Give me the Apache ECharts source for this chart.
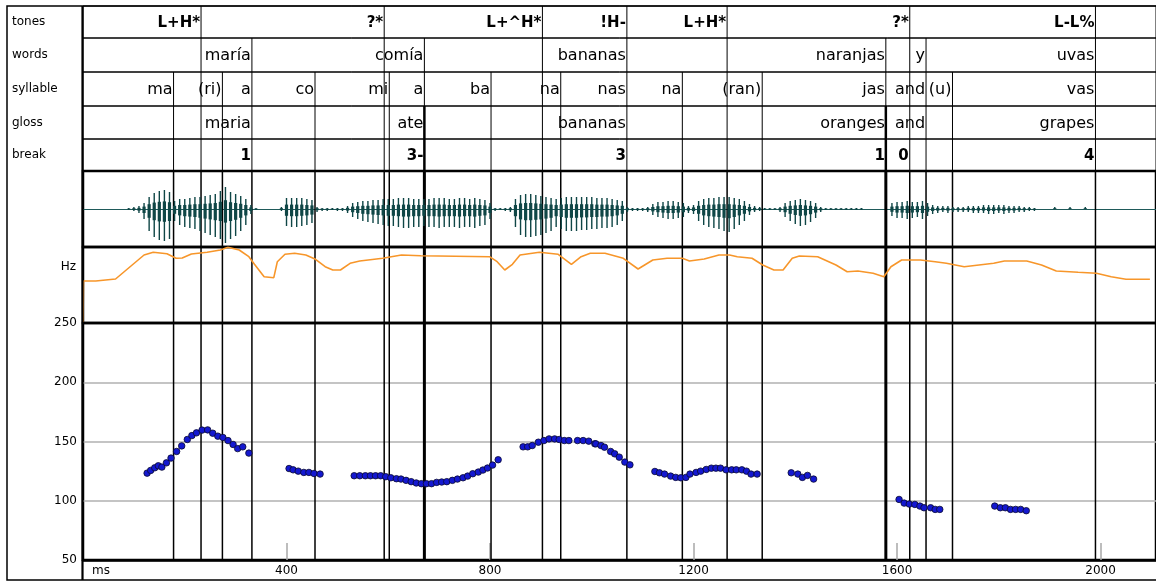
<!DOCTYPE html>
<html>
<head>
<meta charset="utf-8">
<title>María comía bananas, naranjas y uvas</title>
<script src="https://cdn.jsdelivr.net/npm/echarts@6.0.0/dist/echarts.min.js"></script>
<style>
  html, body { margin: 0; padding: 0; background: #fff; }
  #chart { width: 1156px; height: 582px; }
</style>
</head>
<body>
<div id="chart"></div>
<script>
// ---------- annotation tiers (boundary time in ms, label ends at its boundary) ----------
const toneTimes   = [232, 592, 903, 1069, 1266, 1625, 1990];
const toneLabels  = ['L+H*', '?*', 'L+^H*', '!H-', 'L+H*', '?*', 'L-L%'];

const wordTimes   = [332, 671, 1069, 1578, 1657, 1990];
const wordLabels  = ['maría', 'comía', 'bananas', 'naranjas', 'y', 'uvas'];

const syllTimes   = [178, 274, 332, 456, 602, 671, 802, 939, 1069, 1178, 1335, 1578, 1657, 1709, 1990];
const syllLabels  = ['ma', '(ri)', 'a', 'co', 'mi', 'a', 'ba', 'na', 'nas', 'na', '(ran)', 'jas', 'and', '(u)', 'vas'];

const glossTimes  = [332, 671, 1069, 1578, 1657, 1990];
const glossLabels = ['maria', 'ate', 'bananas', 'oranges', 'and', 'grapes'];

const breakTimes  = [332, 671, 1069, 1578, 1625, 1990];
const breakLabels = ['1', '3-', '3', '1', '0', '4'];

// boundaries drawn heavier (major phrase breaks)
const majorBreaks = [671, 1578];

// ---------- waveform envelope: [ms, peak above baseline, peak below baseline] ----------
const waveform = [
  [80,0,0],[90,1,1],[100,2,2],[110,3,4],[120,6,10],[130,12,22],[140,16,28],[150,18,31],[160,19,32],[170,17,30],
  [180,8,12],[190,10,16],[200,10,18],[210,11,19],[220,12,20],[230,12,22],[240,13,24],[250,14,26],[260,15,28],[270,18,30],
  [280,22,34],[290,17,30],[300,15,27],[310,13,22],[320,10,16],[330,4,5],[340,1,1],[350,0,0],[360,0,0],[370,0,0],
  [380,0,0],[390,2,2],[400,11,17],[410,11,18],[420,11,18],[430,11,17],[440,10,16],[450,9,14],[460,2,3],[470,1,2],
  [480,1,2],[490,1,1],[500,1,2],[510,1,2],[520,3,4],[530,6,8],[540,7,10],[550,8,12],[560,8,13],[570,9,14],
  [580,9,15],[590,10,16],[600,10,17],[610,10,17],[620,11,18],[630,11,19],[640,11,19],[650,10,18],[660,10,18],[670,10,17],
  [680,10,18],[690,11,18],[700,11,19],[710,11,18],[720,10,18],[730,10,18],[740,11,19],[750,11,18],[760,10,18],[770,11,19],
  [780,10,17],[790,9,16],[800,6,10],[810,1,2],[820,1,1],[830,1,2],[840,2,3],[850,10,18],[860,14,26],[870,15,28],
  [880,15,28],[890,14,27],[900,13,26],[910,12,24],[920,11,22],[930,10,18],[940,11,20],[950,12,22],[960,12,22],[970,12,22],
  [980,12,21],[990,12,21],[1000,12,20],[1010,11,20],[1020,11,19],[1030,11,19],[1040,10,18],[1050,9,16],[1060,8,12],[1070,2,3],
  [1080,1,2],[1090,1,2],[1100,1,2],[1110,2,3],[1120,5,6],[1130,7,8],[1140,7,9],[1150,8,10],[1160,8,10],[1170,7,9],
  [1180,6,8],[1190,3,4],[1200,4,5],[1210,8,12],[1220,10,16],[1230,11,18],[1240,11,19],[1250,12,20],[1260,12,22],[1270,12,23],
  [1280,11,20],[1290,10,16],[1300,8,12],[1310,5,6],[1320,3,3],[1330,2,2],[1340,1,1],[1350,1,1],[1360,1,1],[1370,2,3],
  [1380,6,8],[1390,8,12],[1400,9,15],[1410,10,17],[1420,9,16],[1430,8,13],[1440,6,9],[1450,2,3],[1460,1,1],[1470,1,1],
  [1480,1,1],[1490,1,1],[1500,1,1],[1510,1,1],[1520,1,1],[1530,1,1],
  [1590,6,7],[1600,7,9],[1610,7,9],[1620,8,10],[1630,7,9],[1640,7,8],[1650,8,10],[1660,6,7],[1670,4,5],
  [1680,3,4],[1690,3,3],[1700,3,4],[1710,2,3],[1720,2,3],[1730,2,3],[1740,3,3],[1750,3,4],[1760,3,4],[1770,4,4],
  [1780,4,5],[1790,4,5],[1800,4,4],[1810,4,5],[1820,3,4],[1830,3,4],[1840,3,3],[1850,2,3],[1860,2,2],[1870,1,2],
  [1910,2,0],[1940,2,0],[1970,2,0]
];

// ---------- energy contour (ms, level) ----------
const energy = [
  [0,1],[1,42],[25,42],[64,44],[120,68],[138,70.7],[165,69.3],[183,64.7],[195,65],[213,69],[244,70.7],[270,73],
  [285,75.7],[307,73],[326,66.3],[337,58.7],[356,46.3],[375,45.3],[382,61.3],[397,68.7],[416,69.7],[438,68],
  [457,63.7],[476,56.3],[491,53],[506,53],[525,59.7],[544,62],[589,64.7],[626,68],[664,67.3],[799,66.3],
  [814,61.3],[829,53],[844,58.7],[859,68],[897,70.7],[934,68.7],[960,58.7],[979,66.3],[997,69.7],[1026,69.7],
  [1062,64.7],[1091,54],[1120,63],[1148,64.7],[1178,64.7],[1192,62],[1221,64],[1250,68],[1271,68],[1286,66.3],
  [1315,64.7],[1336,58],[1358,53],[1376,53],[1394,64.7],[1408,67],[1444,66.3],[1480,58],[1502,51.3],[1523,52],
  [1553,49.7],[1574,46.3],[1588,56.3],[1609,63],[1646,63],[1675,61.3],[1697,59.7],[1732,56.3],[1761,58],
  [1790,59.7],[1811,62],[1855,62],[1884,58],[1913,52],[1956,50.7],[1992,49.7],[2021,46.3],[2050,43.7],[2097,43.7]
];

// ---------- F0 track (ms, Hz) ----------
const f0Track = [
  [126,123.3],[133,125.6],[141,127.8],[148,129.5],[155,128.4],[164,132],[173,136],[184,141.6],[194,146.3],
  [205,151.7],[214,155],[223,157.3],[234,159.6],[245,159.8],[255,157],[265,154.5],[275,153.4],[285,150.8],
  [295,147.5],[304,144],[314,145.5],[326,140.2],
  [405,127.2],[413,126.1],[423,125],[434,123.9],[444,123.9],[454,123],[466,122.5],
  [533,121.1],[544,121.1],[555,121.1],[565,121.1],[575,121.1],[585,121.1],[595,120.3],[605,119.4],[616,118.6],
  [625,118.3],[635,117.2],[645,116.1],[655,115],[665,114.4],[675,114.4],[685,114.4],[695,115.5],[705,115.8],
  [715,116.1],[726,117.2],[736,118.3],[747,119.4],[756,120.8],[766,122.8],[777,124.2],[786,125.9],[795,127.6],
  [805,130.1],[816,134.6],
  [865,145.5],[874,145.5],[883,146.6],[895,149.4],[906,150.8],[916,152.2],[927,152.2],[936,151.7],[946,150.8],
  [955,150.8],[972,150.8],[983,150.8],[994,150.3],[1006,148.1],[1008,148],[1018,146.6],[1025,145.2],[1037,141.6],
  [1045,139.6],[1054,136.8],[1065,132.6],[1075,130.3],
  [1124,124.7],[1133,123.6],[1143,122.5],[1155,120.8],[1165,119.7],[1175,119.4],[1185,119.7],[1193,122.5],
  [1205,123.9],[1214,125],[1225,126.4],[1235,127.5],[1244,127.5],[1253,127.5],[1264,126.1],[1275,126.1],
  [1284,126.1],[1295,126.1],[1304,125],[1313,122.5],[1325,122.5],
  [1392,123.6],[1405,122.5],[1414,119.7],[1424,121.4],[1436,118.3],
  [1604,101.1],[1614,98],[1624,97.2],[1635,96.9],[1645,95.5],[1653,94.1],[1666,94.1],[1675,92.7],[1684,92.7],
  [1792,95.5],[1803,94.1],[1813,94.1],[1823,92.7],[1833,92.7],[1843,92.7],[1854,91.6]
];

// ---------- axis settings ----------
const timeMax = 2109;
const hzMin = 50, hzMax = 250, hzStep = 50;
const msStep = 400;

// ---------- layout ----------
const PLOT_LEFT = 83;
const PLOT_WIDTH = 1075;
const FONT = '"DejaVu Sans", "Liberation Sans", sans-serif';
const WAVE_COLOR = '#0f4646';

const tiers = [
  { name: 'tones',    top: 6,   height: 32, times: toneTimes,  labels: toneLabels,  font: 'bold 15px ' + FONT },
  { name: 'words',    top: 38,  height: 34, times: wordTimes,  labels: wordLabels,  font: '16px ' + FONT },
  { name: 'syllable', top: 72,  height: 34, times: syllTimes,  labels: syllLabels,  font: '16px ' + FONT },
  { name: 'gloss',    top: 106, height: 33, times: glossTimes, labels: glossLabels, font: '16px ' + FONT },
  { name: 'break',    top: 139, height: 32, times: breakTimes, labels: breakLabels, font: 'bold 15px ' + FONT }
];
const WAVE = { top: 171, height: 76 };
const ENERGY = { top: 247, height: 76 };
const PITCH = { top: 323, height: 237 };

// every boundary of a tier is ruled through that tier and all tiers below it
const tierLines = [];
let acc = [];
tiers.forEach(t => {
  acc = Array.from(new Set(acc.concat(t.times))).sort((a, b) => a - b);
  tierLines.push(acc.slice());
});
const allLines = tierLines[tierLines.length - 1];

function vLines(heavy, thinW, thickW) {
  return function (params, api) {
    const t = api.value(0);
    const x = api.coord([t, 0])[0];
    const cs = params.coordSys;
    const w = heavy && majorBreaks.indexOf(t) >= 0 ? thickW : thinW;
    return {
      type: 'line',
      shape: { x1: x, y1: cs.y, x2: x, y2: cs.y + cs.height },
      style: { stroke: '#000', lineWidth: w }
    };
  };
}

function tierText(labels, font) {
  return function (params, api) {
    const x = api.coord([api.value(0), 0])[0];
    const cs = params.coordSys;
    return {
      type: 'text',
      style: {
        text: labels[params.dataIndex],
        x: x - 1,
        y: cs.y + cs.height / 2 + 1,
        textAlign: 'right',
        textVerticalAlign: 'middle',
        font: font,
        fill: '#000'
      }
    };
  };
}

const grids = [], xAxes = [], yAxes = [], series = [];

tiers.forEach((t, i) => {
  grids.push({ left: PLOT_LEFT, width: PLOT_WIDTH, top: t.top, height: t.height,
               show: true, borderColor: '#000', borderWidth: 1 });
  xAxes.push({ gridIndex: i, type: 'value', min: 0, max: timeMax, show: false });
  yAxes.push({ gridIndex: i, type: 'value', min: 0, max: 1, show: false });
  series.push({
    type: 'custom', name: t.name + ' boundaries', xAxisIndex: i, yAxisIndex: i,
    data: tierLines[i].map(v => [v, 0]), encode: { x: 0, y: 1 },
    renderItem: vLines(i >= 3, 1, 2.5), silent: true, z: 2
  });
  series.push({
    type: 'custom', name: t.name, xAxisIndex: i, yAxisIndex: i,
    data: t.times.map(v => [v, 0]), encode: { x: 0, y: 1 },
    renderItem: tierText(t.labels, t.font), silent: true, z: 3
  });
});

// waveform
grids.push({ left: PLOT_LEFT, width: PLOT_WIDTH, top: WAVE.top, height: WAVE.height,
             show: true, borderColor: '#000', borderWidth: 2.5 });
xAxes.push({ gridIndex: 5, type: 'value', min: 0, max: timeMax,
             axisLine: { show: true, onZero: true, lineStyle: { color: '#1f5a5a', width: 1.2 } },
             axisTick: { show: false }, axisLabel: { show: false }, splitLine: { show: false } });
yAxes.push({ gridIndex: 5, type: 'value', min: -38, max: 38, show: false });

// energy contour
grids.push({ left: PLOT_LEFT, width: PLOT_WIDTH, top: ENERGY.top, height: ENERGY.height,
             show: true, borderColor: '#000', borderWidth: 2.5 });
xAxes.push({ gridIndex: 6, type: 'value', min: 0, max: timeMax, show: false });
yAxes.push({ gridIndex: 6, type: 'value', min: 0, max: 76, show: false });

// pitch
grids.push({ left: PLOT_LEFT, width: PLOT_WIDTH, top: PITCH.top, height: PITCH.height,
             show: true, borderColor: '#000', borderWidth: 2.5 });
xAxes.push({
  gridIndex: 7, type: 'value', min: 0, max: timeMax, interval: msStep,
  axisLine: { show: true, lineStyle: { color: '#000', width: 2.5 } },
  axisTick: { show: true, inside: true, length: 17, lineStyle: { color: '#a8a8a8', width: 1.5 } },
  axisLabel: { show: true, margin: 5, color: '#000', fontFamily: FONT, fontSize: 12,
               showMinLabel: false, showMaxLabel: false, formatter: v => String(v) },
  splitLine: { show: false }
});
yAxes.push({
  gridIndex: 7, type: 'value', min: hzMin, max: hzMax, interval: hzStep,
  axisLine: { show: false }, axisTick: { show: false },
  axisLabel: { margin: 6, color: '#000', fontFamily: FONT, fontSize: 12, formatter: v => String(v) },
  splitLine: { show: true, showMinLine: false, showMaxLine: false,
               lineStyle: { color: '#b0b0b0', width: 1.5 } }
});

[5, 6, 7].forEach(g => {
  series.push({
    type: 'custom', name: 'boundaries', xAxisIndex: g, yAxisIndex: g,
    data: allLines.map(v => [v, g === 7 ? hzMin : 0]), encode: { x: 0, y: 1 },
    renderItem: vLines(true, 1.5, 3), silent: true, z: 2
  });
});

// each sample: a thin spike over its full extent plus a narrower, denser core near the baseline
series.push({
  type: 'custom', name: 'waveform', xAxisIndex: 5, yAxisIndex: 5,
  data: waveform, encode: { x: 0, y: [1, 2] }, silent: true, z: 3,
  renderItem: function (params, api) {
    const t = api.value(0);
    const up = api.value(1), down = api.value(2);
    const top = api.coord([t, up]);
    const bot = api.coord([t, -down]);
    const cTop = api.coord([t, up * 0.4]);
    const cBot = api.coord([t, -down * 0.4]);
    return {
      type: 'group',
      children: [
        { type: 'line', shape: { x1: top[0], y1: top[1], x2: bot[0], y2: bot[1] },
          style: { stroke: WAVE_COLOR, lineWidth: 1.4 } },
        { type: 'rect', shape: { x: cTop[0] - 1.6, y: cTop[1], width: 3.2, height: Math.max(cBot[1] - cTop[1], 0) },
          style: { fill: WAVE_COLOR } }
      ]
    };
  }
});

series.push({
  type: 'line', name: 'energy', xAxisIndex: 6, yAxisIndex: 6,
  data: energy, showSymbol: false, symbol: 'none', silent: true, z: 4,
  lineStyle: { color: '#f7962a', width: 1.6 }
});

series.push({
  type: 'scatter', name: 'F0', xAxisIndex: 7, yAxisIndex: 7,
  data: f0Track, symbol: 'circle', symbolSize: 6.5, silent: true, z: 5,
  itemStyle: { color: '#1418d0', borderColor: '#0a0a30', borderWidth: 0.8, opacity: 1 }
});

const graphic = [
  { type: 'rect', shape: { x: 7, y: 6, width: 1170, height: 574 },
    style: { fill: 'none', stroke: '#000', lineWidth: 1.5 }, z: 10 },
  { type: 'line', shape: { x1: 82.5, y1: 6, x2: 82.5, y2: 580 },
    style: { stroke: '#000', lineWidth: 2.2 }, z: 10 },
  { type: 'text', x: 92, y: 571, style: { text: 'ms', font: '12px ' + FONT, fill: '#000',
    textAlign: 'left', textVerticalAlign: 'middle' }, z: 10 },
  { type: 'text', x: 76, y: 267, style: { text: 'Hz', font: '12px ' + FONT, fill: '#000',
    textAlign: 'right', textVerticalAlign: 'middle' }, z: 10 }
];
tiers.forEach(t => {
  graphic.push({ type: 'text', x: 12, y: t.top + t.height / 2,
    style: { text: t.name, font: '12px ' + FONT, fill: '#000',
             textAlign: 'left', textVerticalAlign: 'middle' }, z: 10 });
});

const chart = echarts.init(document.getElementById('chart'), null, { renderer: 'canvas' });
chart.setOption({
  animation: false,
  backgroundColor: '#fff',
  grid: grids,
  xAxis: xAxes,
  yAxis: yAxes,
  series: series,
  graphic: graphic
});
</script>
</body>
</html>
